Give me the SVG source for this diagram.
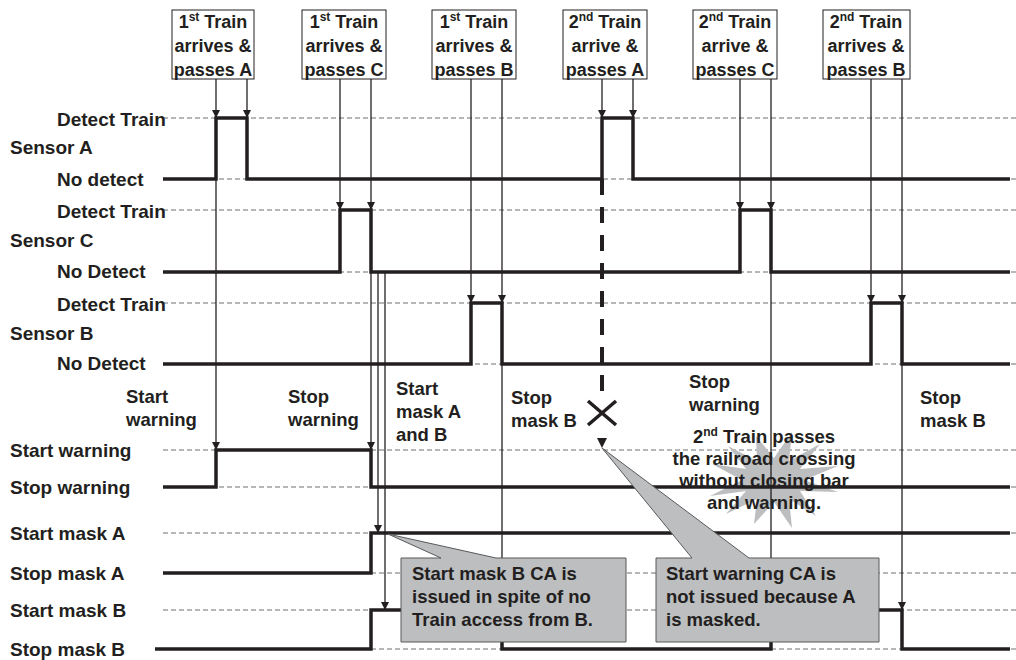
<svg xmlns="http://www.w3.org/2000/svg" width="1016" height="660" viewBox="0 0 1016 660">
<defs>
<marker id="ah" viewBox="0 0 10 10" refX="10" refY="5" markerWidth="8" markerHeight="8" markerUnits="userSpaceOnUse" orient="auto">
<path d="M0,0 L10,5 L0,10 z" fill="#231f20"/>
</marker>
<style>
text{font-family:"Liberation Sans",Arial,sans-serif;font-weight:bold;font-size:18.5px;fill:#231f20}
.lbl text{font-size:19px}
.mid{text-anchor:middle}
.ref{stroke:#6d6e71;stroke-width:1;stroke-dasharray:5 3;fill:none}
.sig{stroke:#231f20;stroke-width:3.5;fill:none;stroke-linejoin:miter}
.thin{stroke:#231f20;stroke-width:1.3;fill:none}
.box{fill:#fff;stroke:#231f20;stroke-width:1}
.bt{font-size:18px}
.call{fill:#bcbec0;stroke:#58595b;stroke-width:1}
</style>
</defs>
<rect width="1016" height="660" fill="#fff"/>

<g id="reference-lines">
<line class="ref" x1="163" y1="118" x2="1016" y2="118"/>
<line class="ref" x1="163" y1="179" x2="1016" y2="179"/>
<line class="ref" x1="163" y1="210" x2="1016" y2="210"/>
<line class="ref" x1="163" y1="272" x2="1016" y2="272"/>
<line class="ref" x1="163" y1="303" x2="1016" y2="303"/>
<line class="ref" x1="163" y1="364" x2="1016" y2="364"/>
<line class="ref" x1="163" y1="450" x2="1016" y2="450"/>
<line class="ref" x1="163" y1="487" x2="1016" y2="487"/>
<line class="ref" x1="163" y1="533" x2="1016" y2="533"/>
<line class="ref" x1="163" y1="573" x2="1016" y2="573"/>
<line class="ref" x1="163" y1="610" x2="1016" y2="610"/>
<line class="ref" x1="155" y1="649" x2="1016" y2="649"/>
</g>

<g id="starburst">
<polygon fill="#bcbec0" points="756,436 774,458 792,432 789,461 820,444 800,469 838,466 804,480 838,492 800,491 816,516 789,499 792,528 774,502 754,524 757,499 726,514 746,491 710,496 742,480 712,464 746,469 728,446 757,461"/>
</g>

<g id="row-labels" class="lbl">
<text x="57" y="126">Detect Train</text>
<text x="10" y="154">Sensor A</text>
<text x="57" y="186">No detect</text>
<text x="57" y="218">Detect Train</text>
<text x="10" y="247">Sensor C</text>
<text x="57" y="278">No Detect</text>
<text x="57" y="311">Detect Train</text>
<text x="10" y="340">Sensor B</text>
<text x="57" y="370">No Detect</text>
<text x="10" y="457">Start warning</text>
<text x="10" y="494">Stop warning</text>
<text x="10" y="540">Start mask A</text>
<text x="10" y="580">Stop mask A</text>
<text x="10" y="617">Start mask B</text>
<text x="10" y="656">Stop mask B</text>
</g>

<g id="signals">
<path id="sensor-a" class="sig" d="M163,179 H216 V118 H247 V179 H602 V118 H633 V179 H1010"/>
<path id="sensor-c" class="sig" d="M163,272 H340 V210 H371 V272 H740 V210 H771 V272 H1010"/>
<path id="sensor-b" class="sig" d="M163,364 H471 V303 H502 V364 H871 V303 H902 V364 H1010"/>
<path id="warning" class="sig" d="M163,487 H216 V450 H371 V487 H1010"/>
<path id="mask-a" class="sig" d="M163,573 H371 V533 H1010"/>
<path id="mask-b" class="sig" d="M155,649 H371 V610 H502 V649 H771 V610 H902 V649 H1010"/>
</g>

<g id="connectors">
<line class="thin" x1="216" y1="79" x2="216" y2="118" marker-end="url(#ah)"/>
<line class="thin" x1="216" y1="118" x2="216" y2="450" marker-end="url(#ah)"/>
<line class="thin" x1="247" y1="79" x2="247" y2="118" marker-end="url(#ah)"/>
<line class="thin" x1="340" y1="79" x2="340" y2="210" marker-end="url(#ah)"/>
<line class="thin" x1="371" y1="79" x2="371" y2="210" marker-end="url(#ah)"/>
<line class="thin" x1="371" y1="210" x2="371" y2="450" marker-end="url(#ah)"/>
<line class="thin" x1="378" y1="272" x2="378" y2="533" marker-end="url(#ah)"/>
<line class="thin" x1="385" y1="272" x2="385" y2="610" marker-end="url(#ah)"/>
<line class="thin" x1="471" y1="79" x2="471" y2="303" marker-end="url(#ah)"/>
<line class="thin" x1="502" y1="79" x2="502" y2="303" marker-end="url(#ah)"/>
<line class="thin" x1="502" y1="303" x2="502" y2="649"/>
<line class="thin" x1="602" y1="79" x2="602" y2="118" marker-end="url(#ah)"/>
<line class="thin" x1="633" y1="79" x2="633" y2="118" marker-end="url(#ah)"/>
<line class="thin" x1="740" y1="79" x2="740" y2="210" marker-end="url(#ah)"/>
<line class="thin" x1="771" y1="79" x2="771" y2="210" marker-end="url(#ah)"/>
<line class="thin" x1="771" y1="210" x2="771" y2="610"/>
<line class="thin" x1="871" y1="79" x2="871" y2="303" marker-end="url(#ah)"/>
<line class="thin" x1="902" y1="79" x2="902" y2="303" marker-end="url(#ah)"/>
<line class="thin" x1="902" y1="303" x2="902" y2="610" marker-end="url(#ah)"/>
<line x1="602" y1="179" x2="602" y2="393" stroke="#231f20" stroke-width="4" stroke-dasharray="16 12"/>
<path d="M588,401 L616,425 M588,425 L616,401" stroke="#231f20" stroke-width="3.5" fill="none"/>
<path d="M597,438 L607,438 L602,448 z" fill="#231f20"/>
</g>

<g id="event-labels">
<text x="126" y="403">Start</text><text x="126" y="426">warning</text>
<text x="288" y="403">Stop</text><text x="288" y="426">warning</text>
<text x="396" y="395">Start</text><text x="396" y="418">mask A</text><text x="396" y="441">and B</text>
<text x="511" y="404">Stop</text><text x="511" y="427">mask B</text>
<text x="689" y="388">Stop</text><text x="689" y="411">warning</text>
<text x="920" y="404">Stop</text><text x="920" y="427">mask B</text>
</g>

<g id="starburst-text">
<text class="mid" x="764" y="443">2<tspan font-size="12" dy="-7">nd</tspan><tspan dy="7"> Train passes</tspan></text>
<text class="mid" x="764" y="465">the railroad crossing</text>
<text class="mid" x="764" y="487">without closing bar</text>
<text class="mid" x="764" y="509">and warning.</text>
</g>

<g id="box-1">
<rect class="box" x="172" y="10" width="82" height="69"/>
<text class="mid bt" x="213" y="28">1<tspan font-size="12" dy="-7">st</tspan><tspan dy="7"> Train</tspan></text>
<text class="mid bt" x="213" y="52">arrives &amp;</text>
<text class="mid bt" x="213" y="76">passes A</text>
</g>
<g id="box-2">
<rect class="box" x="302" y="10" width="84" height="69"/>
<text class="mid bt" x="344" y="28">1<tspan font-size="12" dy="-7">st</tspan><tspan dy="7"> Train</tspan></text>
<text class="mid bt" x="344" y="52">arrives &amp;</text>
<text class="mid bt" x="344" y="76">passes C</text>
</g>
<g id="box-3">
<rect class="box" x="432" y="10" width="84" height="69"/>
<text class="mid bt" x="474" y="28">1<tspan font-size="12" dy="-7">st</tspan><tspan dy="7"> Train</tspan></text>
<text class="mid bt" x="474" y="52">arrives &amp;</text>
<text class="mid bt" x="474" y="76">passes B</text>
</g>
<g id="box-4">
<rect class="box" x="563" y="10" width="84" height="69"/>
<text class="mid bt" x="605" y="28">2<tspan font-size="12" dy="-7">nd</tspan><tspan dy="7"> Train</tspan></text>
<text class="mid bt" x="605" y="52">arrive &amp;</text>
<text class="mid bt" x="605" y="76">passes A</text>
</g>
<g id="box-5">
<rect class="box" x="693" y="10" width="84" height="69"/>
<text class="mid bt" x="735" y="28">2<tspan font-size="12" dy="-7">nd</tspan><tspan dy="7"> Train</tspan></text>
<text class="mid bt" x="735" y="52">arrive &amp;</text>
<text class="mid bt" x="735" y="76">passes C</text>
</g>
<g id="box-6">
<rect class="box" x="823" y="10" width="87" height="69"/>
<text class="mid bt" x="866" y="28">2<tspan font-size="12" dy="-7">nd</tspan><tspan dy="7"> Train</tspan></text>
<text class="mid bt" x="866" y="52">arrives &amp;</text>
<text class="mid bt" x="866" y="76">passes B</text>
</g>

<g id="callout-1">
<path class="call" d="M401,558 H441 L388,534 L496,558 H626 V642 H401 Z"/>
<text x="412" y="580">Start mask B CA is</text>
<text x="412" y="603">issued in spite of no</text>
<text x="412" y="626">Train access from B.</text>
</g>
<g id="callout-2">
<path class="call" d="M656,558 H692 L602,448 L749,558 H879 V642 H656 Z"/>
<text x="666" y="580">Start warning CA is</text>
<text x="666" y="603">not issued because A</text>
<text x="666" y="626">is masked.</text>
</g>
</svg>
